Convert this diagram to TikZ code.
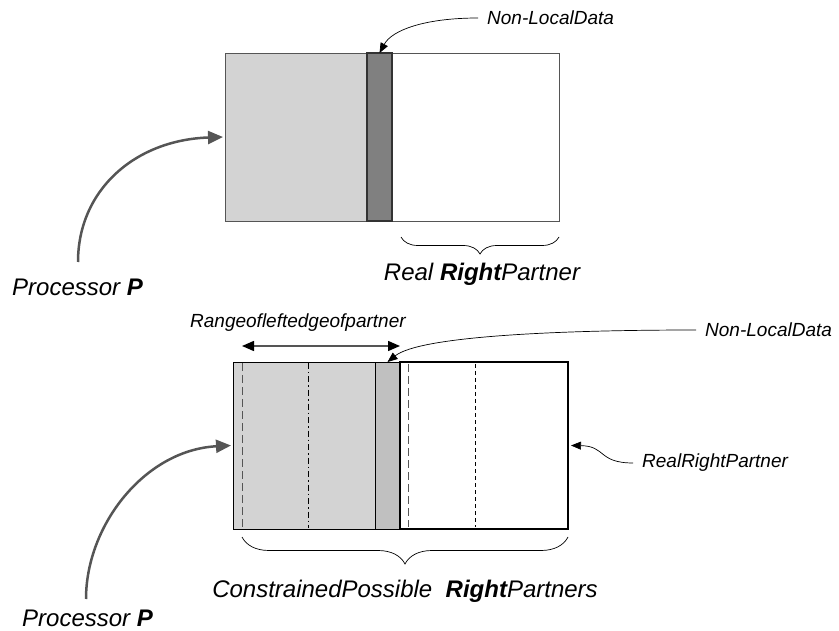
\documentclass[tikz,border=0pt]{standalone}
\usepackage{fontspec}
\setmainfont{Liberation Sans}
\usetikzlibrary{arrows.meta,decorations.pathreplacing}
\definecolor{lgray}{HTML}{D3D3D3}
\definecolor{mgray}{HTML}{C0C0C0}
\definecolor{dgray}{HTML}{808080}
\definecolor{agray}{HTML}{555555}
\begin{document}
\begin{tikzpicture}[x=1pt,y=-1pt,
  bigtxt/.style={font=\fontsize{24}{28}\selectfont\itshape, inner sep=0pt},
  smalltxt/.style={font=\fontsize{19}{22}\selectfont\itshape, inner sep=0pt},
  procarrow/.style={draw=agray, line width=2.5pt, -{Triangle[length=15pt,width=13pt]}},
  thinarrow/.style={draw=black, line width=0.7pt, -{Triangle[length=10pt,width=8pt]}},
  rangearrow/.style={draw=agray, line width=1.5pt, {Triangle[length=12pt,width=10pt,fill=black,color=black]}-{Triangle[length=12pt,width=10pt,fill=black,color=black]}},
  bracestyle/.style={draw, line width=0.7pt, decorate, decoration={brace, mirror, amplitude=#1}},
  box/.style={inner sep=0pt, outer sep=0pt, anchor=north west}]
\useasboundingbox (0,0) rectangle (839,631);

% ---------- top diagram ----------
\node[box, fill=lgray, draw=agray, line width=0.8pt, minimum width=142pt, minimum height=168pt] (tgray) at (225,53) {};
\node[box, fill=white, draw=agray, line width=0.8pt, minimum width=167pt, minimum height=168pt] (twhite) at (392,53) {};
\node[box, fill=dgray, draw=black!80, line width=1.2pt, minimum width=25pt, minimum height=168pt] (tdark) at (367,53) {};

\node[smalltxt, anchor=west] (nl1) at (487,18) {Non-LocalData};
\draw[thinarrow] ([xshift=-9pt]nl1.west) .. controls (425,18) and (392,30) .. (tdark.north);

\draw[bracestyle=17pt] (401,237) -- (559,237);
\node[bigtxt, anchor=north] (trp) at (482,263) {Real \textbf{Right}Partner};

\node[bigtxt, anchor=west] (p1) at (12,287) {Processor \textbf{P}};
\coordinate (p1s) at (78,262);
\draw[procarrow] (p1s) .. controls (78,190) and (135,140) .. ([xshift=-2pt]tgray.west);

% ---------- bottom diagram ----------
\node[box, fill=lgray, draw=black, line width=0.8pt, minimum width=142pt, minimum height=167pt] (bgray) at (233,362) {};
\node[box, fill=mgray, draw=black, line width=0.8pt, minimum width=25pt, minimum height=167pt] (bmid) at (375,362) {};
\node[box, fill=white, draw=black, line width=2.4pt, minimum width=168pt, minimum height=167pt] (bwhite) at (400,362) {};

\draw[agray, line width=1pt, dash pattern=on 8pt off 4pt] (242,363) -- (242,528);
\draw[black, line width=0.6pt, dash pattern=on 6pt off 3pt on 1.5pt off 3pt] (308,363) -- (308,528);
\draw[agray, line width=1pt, dash pattern=on 8pt off 4pt] (408,364) -- (408,527);
\draw[black, line width=0.8pt, dash pattern=on 4pt off 3pt] (475,364) -- (475,527);

\node[smalltxt, anchor=west] (rng) at (190,323) {Rangeofleftedgeofpartner};
\coordinate (ra) at (242,346);
\coordinate (rb) at (400,346);
\draw[rangearrow] (ra) -- (rb);

\node[smalltxt, anchor=west] (nl2) at (705,330) {Non-LocalData};
\draw[thinarrow] ([xshift=-9pt]nl2.west) .. controls (560,330) and (420,336) .. (bmid.north);

\node[smalltxt, anchor=west] (rrp) at (642,463) {RealRightPartner};
\draw[thinarrow] ([xshift=-9pt]rrp.west) .. controls (598,463) and (606,446) .. ([xshift=3pt]bwhite.east);

\draw[bracestyle=27pt] (242,537) -- (568,537);
\node[bigtxt, anchor=north] (crp) at (405,580) {ConstrainedPossible\ \ \textbf{Right}Partners};

\node[bigtxt, anchor=west] (p2) at (22,618) {Processor \textbf{P}};
\coordinate (p2s) at (86,599);
\draw[procarrow] (p2s) .. controls (86,525) and (145,450) .. ([xshift=-2pt]bgray.west);
\end{tikzpicture}
\end{document}
